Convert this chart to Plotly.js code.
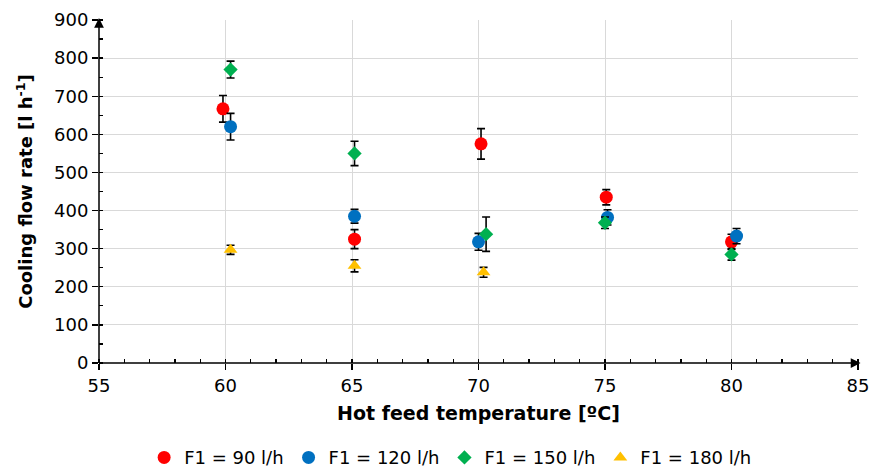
<!DOCTYPE html>
<html><head><meta charset="utf-8">
<script src="https://cdn.plot.ly/plotly-3.0.1.min.js"></script>
<style>html,body{margin:0;padding:0;background:#fff}#c{width:875px;height:468px}</style>
</head><body><div id="c"></div>
<script>
const seriesNames = ['F1 = 90 l/h','F1 = 120 l/h','F1 = 150 l/h','F1 = 180 l/h'];
const x90  = [59.9, 65.1, 70.1, 75.05, 80.0];
const y90  = [667, 325, 575, 435, 318];
const e90  = [35, 25, 40, 20, 20];
const x120 = [60.2, 65.1, 70.0, 75.1, 80.2];
const y120 = [620, 385, 318, 382, 333];
const e120 = [35, 18, 22, 20, 20];
const x150 = [60.2, 65.1, 70.3, 75.0, 80.0];
const y150 = [770, 550, 338, 368, 285];
const e150 = [22, 32, 45, 15, 15];
const x180 = [60.2, 65.1, 70.2];
const y180 = [297, 255, 238];
const e180 = [12, 16, 13];
const xTicks = [55,60,65,70,75,80,85];
const yTicks = [0,100,200,300,400,500,600,700,800,900];

const colors = ['#FF0000','#0070C0','#00B050','#FFC000'];
const symbols = ['circle','circle','diamond','triangle-up'];
const sizes = [13,13,11,12];
const xs=[x90,x120,x150,x180], ys=[y90,y120,y150,y180], es=[e90,e120,e150,e180];
const data = xs.map((x,i)=>({
  type:'scatter', mode:'markers', name:seriesNames[i], x:x, y:ys[i],
  marker:{color:colors[i], symbol:symbols[i], size:sizes[i]},
  error_y:{type:'data', array:es[i], visible:true, color:'#000', thickness:1.6, width:4}
}));
const fam = 'DejaVu Sans, Verdana, sans-serif';
const layout = {
  width:875, height:468, margin:{l:99, r:17, t:20, b:105},
  paper_bgcolor:'#fff', plot_bgcolor:'#fff', font:{family:fam, color:'#000', size:17}, showlegend:true,
  xaxis:{range:[55,85], tickvals:xTicks, showgrid:true, gridcolor:'#d9d9d9', gridwidth:1,
    zeroline:false, showline:false, ticks:'outside', ticklen:6, tickwidth:1.3, tickcolor:'#000',
    minor:{dtick:1, ticks:'inside', ticklen:4, tickcolor:'#000', showgrid:false},
    tickfont:{size:18, family:fam},
    title:{text:'Hot feed temperature [ºC]', font:{size:19, family:fam, weight:'bold'}, standoff:12}},
  yaxis:{range:[0,900], tickvals:yTicks, showgrid:true, gridcolor:'#d9d9d9', gridwidth:1,
    zeroline:false, showline:false, ticks:'outside', ticklen:6, tickwidth:1.3, tickcolor:'#000',
    minor:{dtick:50, ticks:'inside', ticklen:4, tickcolor:'#000', showgrid:false},
    tickfont:{size:18, family:fam},
    title:{text:'Cooling flow rate [l h<sup>-1</sup>]', font:{size:18, family:fam, weight:'bold'}, standoff:16}},
  legend:{orientation:'h', xref:'container', x:0.515, xanchor:'center', yref:'container', y:0.022, yanchor:'middle',
    font:{size:18, family:fam}, itemwidth:30, tracegroupgap:0},
  annotations:[
    {x:55, y:905, ax:55, ay:0, xref:'x', yref:'y', axref:'x', ayref:'y', showarrow:true, arrowhead:2, arrowsize:1.3, arrowwidth:1.5, arrowcolor:'#000', text:''},
    {x:85.1, y:0, ax:55, ay:0, xref:'x', yref:'y', axref:'x', ayref:'y', showarrow:true, arrowhead:2, arrowsize:1.3, arrowwidth:1.5, arrowcolor:'#000', text:''}
  ]
};
Plotly.newPlot('c', data, layout, {displayModeBar:false, staticPlot:true});
</script></body></html>
